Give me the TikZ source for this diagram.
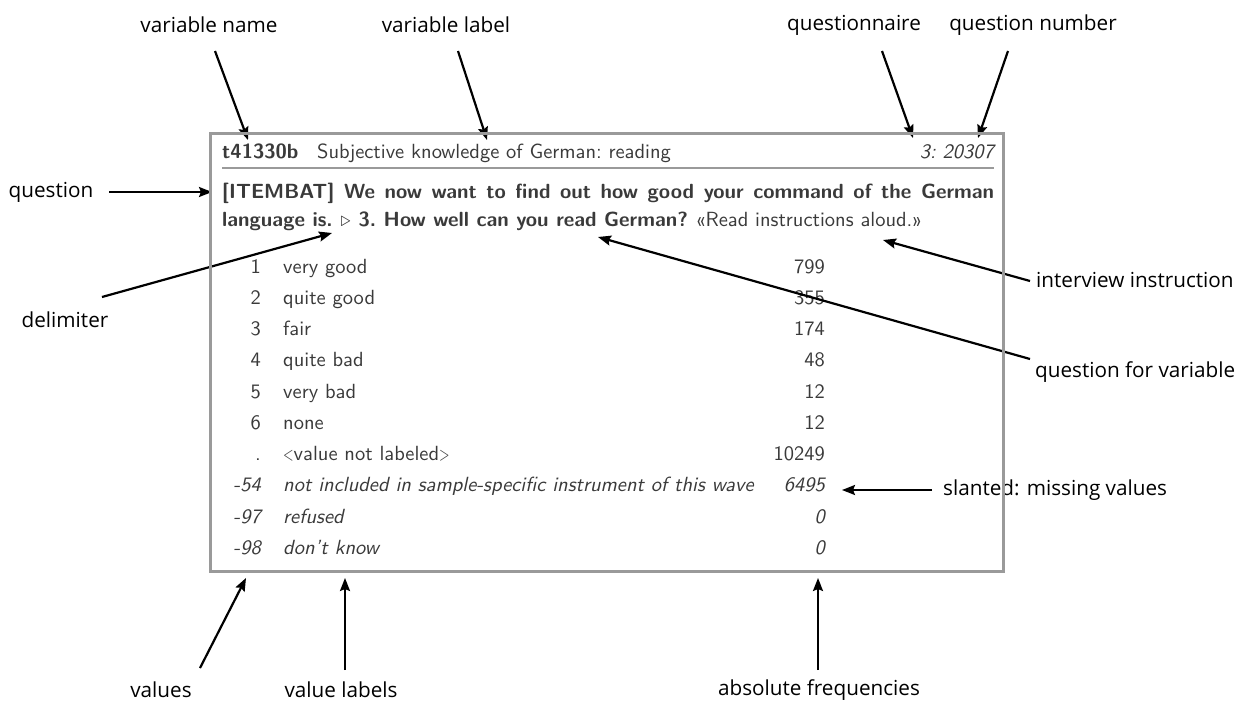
\documentclass[tikz,border=0pt]{standalone}
\usepackage{fontspec}
\usepackage{graphicx}
\setmainfont{Open Sans}
\newfontfamily\lmsf{lmsans10-regular}[Extension=.otf, BoldFont=lmsans10-bold, ItalicFont=lmsans10-oblique]
\usetikzlibrary{arrows.meta}
\definecolor{boxtext}{HTML}{3A3A3A}
\definecolor{boxline}{HTML}{9A9A9A}
\newcommand\mylt{\scalebox{0.66}[0.92]{<}}
\newcommand\mygt{\scalebox{0.66}[0.92]{>}}
\tikzset{
  ann/.style={font=\fontsize{20.7}{24}\selectfont, inner sep=0pt, text=black},
  arr/.style={-{Stealth[length=13pt,width=10pt,inset=2pt]}, line width=2.2pt, black},
  bx/.style={font=\lmsf\fontsize{20.5}{24}\selectfont\frenchspacing, text=boxtext, inner sep=0pt},
}
\begin{document}
\begin{tikzpicture}[x=1pt,y=-1pt]
\path[use as bounding box] (0,0) rectangle (1237,701);
\fill[white] (0,0) rectangle (1237,701);

% annotation labels
\node[ann] (a-vname) at (209,25) {variable name};
\node[ann] (a-vlabel) at (446,25) {variable label};
\node[ann] (a-qnaire) at (854,25) {questionnaire};
\node[ann] (a-qnum) at (1033,25) {question number};
\node[ann] (a-question) at (51,192) {question};
\node[ann] (a-delim) at (65,320) {delimiter};
\node[ann, anchor=west] (a-instr) at (1036,280) {interview instruction};
\node[ann, anchor=west] (a-qvar) at (1035,372) {question for variable};
\node[ann, anchor=west] (a-miss) at (943,490) {slanted: missing values};
\node[ann] (a-vals) at (161,690) {values};
\node[ann] (a-vlabs) at (341,690) {value labels};
\node[ann] (a-freq) at (819,690) {absolute frequencies};

% header
\node[bx, anchor=base west] (vname) at (222,158) {\bfseries t41330b};
\node[bx, anchor=base west] (vlabel) at (317,158) {Subjective knowledge of German: reading};
\node[bx, anchor=base east] (qnum) at (994,158) {\itshape 3: 20307};
\draw[boxline, line width=1.2pt] (222,168) -- (994,168);

% question
\node[bx, anchor=base west] (q1) at (222,198) {\hbox to 772pt{\bfseries [ITEMBAT] We now want to find out how good your command of the German}};
\node[bx, anchor=base west] (q2a) at (222,226) {\bfseries language is.};
\node[bx, anchor=base west] (delim) at ([xshift=7.5pt]q2a.base east) {$\triangleright$};
\node[bx, anchor=base west] (q2b) at ([xshift=7.5pt]delim.base east) {\bfseries 3. How well can you read German?};
\node[bx, anchor=base west] (instr) at ([xshift=7pt]q2b.base east) {«Read instructions aloud.»};

% rows
\foreach \v/\l/\f/\s [count=\i from 0] in {
  1/very good/799/\upshape,
  2/quite good/355/\upshape,
  3/fair/174/\upshape,
  4/quite bad/48/\upshape,
  5/very bad/12/\upshape,
  6/none/12/\upshape,
  ./{\mylt value not labeled\mygt}/10249/\upshape,
  -54/not included in sample-specific instrument of this wave/6495/\itshape,
  -97/refused/0/\itshape,
  -98/don’t know/0/\itshape}{
  \pgfmathsetmacro{\yy}{273+31.26*\i}
  \node[bx, anchor=base east] (val\i) at (261,\yy) {\s\v};
  \node[bx, anchor=base west] (lab\i) at (283,\yy) {\s\l};
  \node[bx, anchor=base east] (frq\i) at (825,\yy) {\s\f};
}

% arrow ends
\coordinate (s-vname) at (215,51);   \coordinate (t-vname) at (248,140);
\coordinate (s-vlabel) at (458,51);  \coordinate (t-vlabel) at (487,140);
\coordinate (s-qnaire) at (882,51);  \coordinate (t-qnaire) at (913,138);
\coordinate (s-qnum) at (1008,51);   \coordinate (t-qnum) at (978,138);
\coordinate (s-question) at (109,192); \coordinate (t-question) at (212,192);
\coordinate (s-delim) at (102,297);  \coordinate (t-delim) at (332,233);
\coordinate (s-qvar) at (1030,359);  \coordinate (t-qvar) at (598,237);
\coordinate (s-instr) at (1030,281); \coordinate (t-instr) at (883,240);
\coordinate (s-miss) at (932,490);   \coordinate (t-miss) at (842,490);
\coordinate (s-vals) at (200,668);   \coordinate (t-vals) at (246,578);
\coordinate (s-vlabs) at (345,670);  \coordinate (t-vlabs) at (345,578);
\coordinate (s-freq) at (818,670);   \coordinate (t-freq) at (818,578);

\foreach \n in {vname,vlabel,qnaire,qnum,question,delim,qvar,instr,miss,vals,vlabs,freq}
  \draw[arr] (s-\n) -- (t-\n);

% box frame on top
\node[draw=boxline, line width=2.5pt, anchor=north west, minimum width=793pt, minimum height=438pt, inner sep=0pt] (box) at (209,132) {};
\end{tikzpicture}
\end{document}
